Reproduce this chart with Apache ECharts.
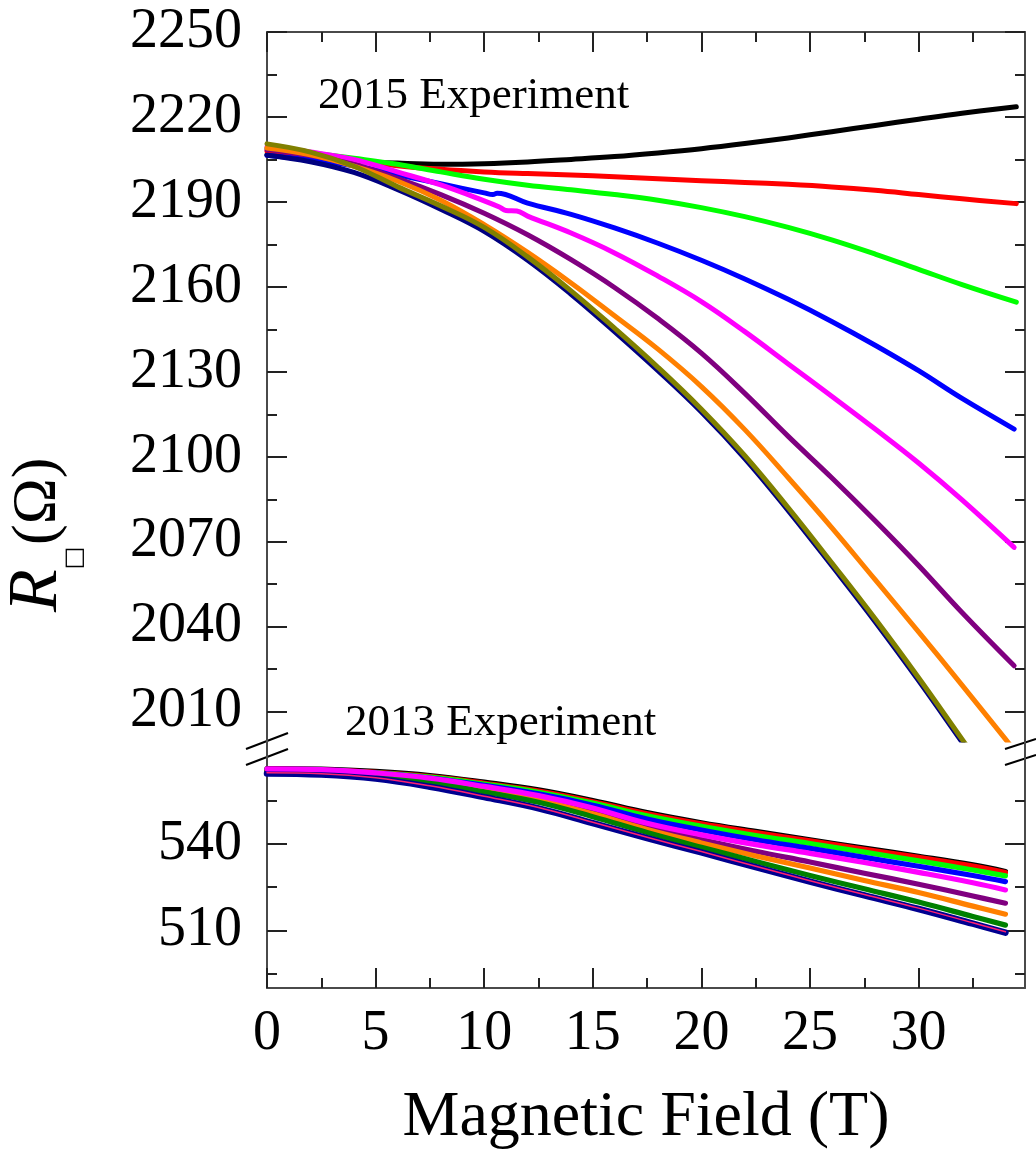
<!DOCTYPE html>
<html>
<head>
<meta charset="utf-8">
<script src="https://cdn.jsdelivr.net/npm/echarts@6/dist/echarts.min.js"></script>
<style>
  html, body { margin: 0; padding: 0; background: #ffffff; }
  #chart { width: 1036px; height: 1158px; }
</style>
</head>
<body>
<div id="chart"></div>
<script>
// ---------- 2015 experiment (upper panel): [field T, R (Ohm)] ----------
const black15 = [[0,2206.8],[2,2205.6],[4,2204.4],[6,2203.7],[8,2203.3],[10,2203.5],[12,2204.1],[14,2205.0],[16,2206.0],[18,2207.3],[20,2208.8],[22,2210.6],[24,2212.6],[26,2214.8],[28,2217.0],[30,2219.2],[32,2221.3],[34.5,2223.6]];
const red15 = [[0,2208.0],[2,2206.4],[4,2204.6],[6,2202.8],[8,2201.5],[10,2200.6],[12,2200.0],[14,2199.5],[16,2198.9],[18,2198.2],[20,2197.5],[22,2196.9],[24,2196.2],[26,2195.3],[28,2194.1],[30,2192.6],[32,2191.1],[34.5,2189.4]];
const green15 = [[0,2209.0],[2,2207.3],[4,2205.4],[6,2203.3],[8,2200.6],[10,2198.0],[12,2195.9],[14,2194.3],[16,2192.6],[18,2190.6],[20,2188.0],[22,2184.8],[24,2181.0],[26,2176.6],[28,2171.6],[30,2166.2],[32,2160.8],[34.5,2154.6]];
const blue15 = [[0,2206.5],[2,2204.8],[4,2202.8],[6,2199.6],[8,2196.4],[10,2193.2],[10.4,2192.6],[10.6,2193.1],[12,2189.6],[14,2185.6],[16,2180.8],[18,2175.4],[20,2169.4],[22,2162.8],[24,2155.6],[26,2147.8],[28,2139.4],[30,2130.4],[32,2120.6],[34.4,2109.8]];
const magenta15 = [[0,2209.5],[2,2207.6],[4,2205.0],[6,2200.6],[8,2196.0],[10,2190.4],[10.7,2188.2],[11.0,2187.0],[11.5,2186.8],[12,2185.0],[14,2179.0],[16,2172.0],[18,2163.8],[20,2154.8],[22,2144.2],[24,2132.8],[26,2121.4],[28,2109.8],[30,2097.8],[32,2084.8],[34.4,2068.0]];
const purple15 = [[0,2208.5],[2,2206.4],[4,2203.2],[6,2198.3],[8,2192.6],[10,2186.0],[12,2178.4],[14,2169.6],[16,2159.8],[18,2148.8],[20,2136.6],[22,2122.4],[24,2107.2],[26,2092.6],[28,2077.4],[30,2061.6],[32,2045.0],[34.4,2026.2]];
const orange15 = [[0,2209.0],[2,2206.6],[4,2202.6],[6,2197.4],[8,2190.6],[10,2182.0],[12,2172.2],[14,2161.4],[16,2149.8],[18,2138.0],[20,2124.8],[22,2109.6],[24,2092.6],[26,2075.0],[28,2056.6],[30,2038.2],[32,2019.4],[34,2000.3],[34.5,1995.5]];
const navy15 = [[0,2206.5],[2,2204.2],[4,2200.4],[6,2194.4],[8,2187.4],[10,2179.6],[12,2169.4],[14,2157.4],[16,2144.2],[18,2130.4],[20,2115.8],[22,2099.4],[24,2081.0],[26,2061.6],[28,2041.8],[30,2021.0],[32,1999.3],[32.4,1995.0]];
const olive15 = [[0,2210.5],[2,2207.6],[4,2202.6],[6,2195.4],[8,2188.6],[10,2181.0],[12,2170.6],[14,2158.6],[16,2145.4],[18,2131.6],[20,2116.8],[22,2100.4],[24,2082.0],[26,2062.6],[28,2042.8],[30,2022.0],[32,2000.3],[32.4,1996.0]];

// ---------- 2013 experiment (lower panel) ----------
const field13 = [0,2.5,5,7.5,10,12.5,15,17.5,20,22.5,25,27.5,30,32.5,34];
const black13   = [566.1,565.9,565.1,563.7,561.4,558.7,555.0,550.8,547.3,544.3,541.4,538.5,535.7,532.7,530.4];
const red13     = [565.8,565.6,564.8,563.3,561.0,558.3,554.6,550.4,546.9,543.9,541.0,538.1,535.3,532.3,530.0];
const green13   = [565.7,565.5,564.6,563.1,560.7,557.9,554.1,549.7,546.1,542.9,540.1,537.1,534.1,530.9,528.9];
const blue13    = [565.6,565.4,564.5,562.8,560.3,557.3,553.4,548.6,544.8,541.4,538.4,535.3,532.2,529.0,526.9];
const purple13  = [565.3,565.0,564.0,562.1,559.2,555.8,551.2,545.9,541.5,537.4,533.7,529.8,526.0,521.9,519.4];
const orange13  = [565.2,564.9,563.8,561.8,558.7,555.2,550.4,545.0,540.3,535.8,531.6,527.3,523.1,518.4,515.6];
const dkgreen13 = [565.0,564.7,563.5,561.4,558.0,554.4,549.4,543.9,538.8,533.9,529.0,524.4,519.8,514.8,511.8];
const navy13    = [564.4,564.0,562.6,559.8,556.2,552.3,547.2,542.0,537.0,531.9,526.9,522.1,517.4,512.3,509.2];
const pink13    = [564.6,564.3,562.9,560.1,556.5,552.6,547.5,542.3,537.3,532.2,527.2,522.4,517.7,512.6,509.5];
const magenta13 = [566.0,565.7,564.6,562.8,559.9,556.7,552.4,547.1,543.1,539.7,536.7,533.5,530.1,526.5,524.0];

// ---------- ticks ----------
const xMajor = [0,5,10,15,20,25,30];
const xMinor = [2.5,7.5,12.5,17.5,22.5,27.5,32.5];
const topMajor = [2010,2040,2070,2100,2130,2160,2190,2220,2250];
const topMinor = [2025,2055,2085,2115,2145,2175,2205,2235];
const botMajor = [510,540];
const botMinor = [495,525,555];

const FONT = '"Liberation Serif", "Times New Roman", serif';
const AX = '#4a4a4a';
const plain = (v) => String(v);

function tickAxis(base, vals, len, line, labels) {
  return Object.assign({
    type: 'value',
    splitLine: { show: false },
    axisLine: { show: line, onZero: false, lineStyle: { color: AX, width: 2 } },
    axisTick: { show: true, inside: true, length: len, customValues: vals, lineStyle: { color: '#222', width: 2 } },
    axisLabel: labels ? labels : { show: false },
    minorTick: { show: false },
    silent: true
  }, base);
}

const xLab = { show: true, customValues: xMajor, formatter: plain, fontFamily: FONT, fontSize: 56, color: '#000', margin: 18 };
const yLab = (vals) => ({ show: true, customValues: vals, formatter: plain, fontFamily: FONT, fontSize: 56, color: '#000', margin: 25, padding: [0,0,6,0] });

const xBase = { min: 0, max: 34.9 };
const xAxes = [
  tickAxis(Object.assign({ gridIndex: 0, position: 'top' }, xBase), xMajor, 20, true),
  tickAxis(Object.assign({ gridIndex: 0, position: 'top' }, xBase), xMinor, 10, false),
  tickAxis(Object.assign({ gridIndex: 1, position: 'bottom',
    name: 'Magnetic Field (T)', nameLocation: 'middle', nameGap: 98, nameMoveOverlap: false,
    nameTextStyle: { fontFamily: FONT, fontSize: 64, color: '#000' } }, xBase), xMajor, 20, true, xLab),
  tickAxis(Object.assign({ gridIndex: 1, position: 'bottom' }, xBase), xMinor, 10, false)
];
const topY = { min: 2000, max: 2250 };
const botY = { min: 490, max: 576 };
const yAxes = [
  tickAxis(Object.assign({ gridIndex: 0, position: 'left' }, topY), topMajor, 20, true, yLab(topMajor)),
  tickAxis(Object.assign({ gridIndex: 0, position: 'left' }, topY), topMinor, 10, false),
  tickAxis(Object.assign({ gridIndex: 0, position: 'right' }, topY), topMajor, 20, true),
  tickAxis(Object.assign({ gridIndex: 0, position: 'right' }, topY), topMinor, 10, false),
  tickAxis(Object.assign({ gridIndex: 1, position: 'left' }, botY), botMajor, 20, true, yLab(botMajor)),
  tickAxis(Object.assign({ gridIndex: 1, position: 'left' }, botY), botMinor, 10, false),
  tickAxis(Object.assign({ gridIndex: 1, position: 'right' }, botY), botMajor, 20, true),
  tickAxis(Object.assign({ gridIndex: 1, position: 'right' }, botY), botMinor, 10, false)
];

function line(data, color, width, xi, yi) {
  return {
    type: 'line', data: data, xAxisIndex: xi, yAxisIndex: yi,
    showSymbol: false, symbol: 'none', smooth: 0.4, clip: true, silent: true,
    lineStyle: { color: color, width: width, cap: 'round', join: 'round' },
    emphasis: { disabled: true }
  };
}
const pair13 = (ys) => field13.map((x, i) => [x, ys[i]]);

const W1 = 5, W2 = 5.2;
const series = [
  line(black15, '#000000', W1, 0, 0),
  line(red15, '#ff0000', W1, 0, 0),
  line(green15, '#00ff00', W1, 0, 0),
  line(blue15, '#0000ff', W1, 0, 0),
  line(magenta15, '#ff00ff', W1, 0, 0),
  line(purple15, '#800080', W1, 0, 0),
  line(orange15, '#ff8000', W1, 0, 0),
  line(navy15, '#000080', W1, 0, 0),
  line(olive15, '#808000', W1, 0, 0),
  line(pair13(black13), '#000000', W2, 2, 4),
  line(pair13(red13), '#ff0000', W2, 2, 4),
  line(pair13(green13), '#00ff00', W2, 2, 4),
  line(pair13(blue13), '#0000ff', W2, 2, 4),
  line(pair13(purple13), '#800080', W2, 2, 4),
  line(pair13(orange13), '#ff8000', W2, 2, 4),
  line(pair13(dkgreen13), '#008000', W2, 2, 4),
  line(pair13(navy13), '#000090', 6.5, 2, 4),
  line(pair13(pink13), '#ff2070', 1.5, 2, 4),
  line(pair13(magenta13), '#ff00ff', W2, 2, 4)
];

const breakStyle = { stroke: '#000', lineWidth: 2 };
const chart = echarts.init(document.getElementById('chart'), null, { renderer: 'canvas' });
chart.setOption({
  animation: false,
  backgroundColor: '#ffffff',
  grid: [
    { left: 267, top: 32, width: 758, height: 708, outerBoundsMode: 'none', containLabel: false },
    { left: 267, top: 740, width: 758, height: 248, outerBoundsMode: 'none', containLabel: false }
  ],
  xAxis: xAxes,
  yAxis: yAxes,
  series: series,
  graphic: [
    { type: 'text', x: 318, y: 96, silent: true,
      style: { text: '2015 Experiment', fontFamily: FONT, fontSize: 45, fill: '#000', align: 'left', verticalAlign: 'middle' } },
    { type: 'text', x: 345, y: 723, silent: true,
      style: { text: '2013 Experiment', fontFamily: FONT, fontSize: 45, fill: '#000', align: 'left', verticalAlign: 'middle' } },
    { type: 'text', x: 38, y: 612, rotation: Math.PI / 2, silent: true,
      style: { text: 'R', fontFamily: FONT, fontStyle: 'italic', fontSize: 70, fill: '#000', align: 'left', verticalAlign: 'middle' } },
    { type: 'text', x: 75, y: 558, rotation: Math.PI / 2, silent: true,
      style: { text: '□', fontFamily: '"DejaVu Sans", sans-serif', fontSize: 24, fill: '#000', align: 'center', verticalAlign: 'middle' } },
    { type: 'text', x: 38, y: 545, rotation: Math.PI / 2, silent: true,
      style: { text: '(Ω)', fontFamily: FONT, fontSize: 62, fill: '#000', align: 'left', verticalAlign: 'middle' } },
    { type: 'line', silent: true, shape: { x1: 246, y1: 749, x2: 288, y2: 733 }, style: breakStyle },
    { type: 'line', silent: true, shape: { x1: 246, y1: 765, x2: 288, y2: 749 }, style: breakStyle },
    { type: 'line', silent: true, shape: { x1: 1005, y1: 749, x2: 1036, y2: 739 }, style: breakStyle },
    { type: 'line', silent: true, shape: { x1: 1005, y1: 765, x2: 1036, y2: 755 }, style: breakStyle }
  ]
});
</script>
</body>
</html>
